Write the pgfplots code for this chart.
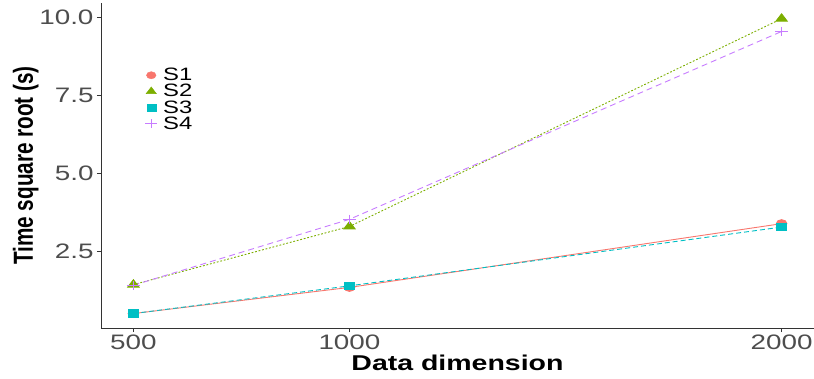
\documentclass[border=0pt]{standalone}
\usepackage{pgfplots}
\pgfplotsset{compat=1.18}
\usepackage{fontspec}
\usepackage{graphicx}
\setmainfont{Liberation Sans}[FakeStretch=1.33]
\newfontfamily\yfont{Liberation Sans}
\definecolor{cA}{HTML}{F8766D}
\definecolor{cB}{HTML}{7CAE00}
\definecolor{cC}{HTML}{00BFC4}
\definecolor{cD}{HTML}{C77CFF}
\definecolor{tickgray}{HTML}{4D4D4D}
\begin{document}
\begin{tikzpicture}
\begin{axis}[
  name=ax,
  scale only axis,
  width=713bp, height=325bp,
  xmin=425, xmax=2075,
  ymin=0.025, ymax=10.475,
  axis x line=bottom, axis y line=left,
  axis line style={-, black!80, line width=0.8bp},
  tick style={black!80, line width=0.8bp},
  tick align=outside,
  major tick length=4bp,
  xtick={500,1000,2000},
  ytick={2.5,5,7.5,10},
  /pgf/number format/assume math mode=true,
  /pgf/number format/1000 sep={},
  yticklabel style={/pgf/number format/fixed, /pgf/number format/precision=1, /pgf/number format/fixed zerofill},
  ticklabel style={font=\fontsize{21}{21}\selectfont, text=tickgray},
  xticklabel style={yshift=1bp},
  xlabel={\bfseries Data dimension},
  xlabel style={font=\fontsize{21.5}{21.5}\selectfont, yshift=1bp},
  ylabel={\scalebox{1}[1.33]{\yfont\bfseries Time square root (s)}},
  ylabel style={font=\fontsize{20.8}{20.8}\selectfont, yshift=-6bp},
  legend style={draw=none, fill=none, at={(0.062,0.806)}, anchor=north west,
    font=\fontsize{18}{18}\selectfont, row sep=-1.8bp, column sep=4bp, inner sep=0pt},
  legend cell align=left,
  legend image code/.code={\draw[#1] plot coordinates {(0.22cm,0cm)};},
]
\addlegendimage{only marks, mark=*, color=cA, mark size=3.6bp, mark options={xscale=1.33}}
\addlegendentry{S1}
\addlegendimage{only marks, mark=triangle*, color=cB, mark size=4.5bp, mark options={xscale=1.33}}
\addlegendentry{S2}
\addlegendimage{only marks, mark=square*, color=cC, mark size=3.4bp, mark options={xscale=1.33}}
\addlegendentry{S3}
\addlegendimage{only marks, mark=+, color=cD, mark size=4.4bp, mark options={xscale=1.33, draw=cD, line width=1.1bp}}
\addlegendentry{S4}

\addplot[forget plot, color=cA, line width=0.9bp, mark=*, mark size=4bp, mark options={xscale=1.33, solid}]
  coordinates {(500,0.49) (1000,1.33) (2000,3.38)};
\addplot[forget plot, color=cB, line width=0.9bp, dash pattern=on 1.8bp off 1.8bp, mark=triangle*, mark size=4.9bp, mark options={xscale=1.33, solid}]
  coordinates {(500,1.42) (1000,3.29) (2000,9.97)};
\addplot[forget plot, color=cC, line width=0.9bp, dash pattern=on 5bp off 3bp, mark=square*, mark size=3.65bp, mark options={xscale=1.33, solid}]
  coordinates {(500,0.49) (1000,1.38) (2000,3.27)};
\addplot[forget plot, color=cD, line width=0.9bp, dash pattern=on 6bp off 4bp, mark=+, mark size=4.7bp, mark options={xscale=1.33, solid, draw=cD, line width=1.1bp}]
  coordinates {(500,1.40) (1000,3.52) (2000,9.56)};
\end{axis}
\pgfresetboundingbox
\path[use as bounding box] (ax.south west) ++(-101bp,-51bp) rectangle ([yshift=3bp]ax.north east);
\end{tikzpicture}
\end{document}
